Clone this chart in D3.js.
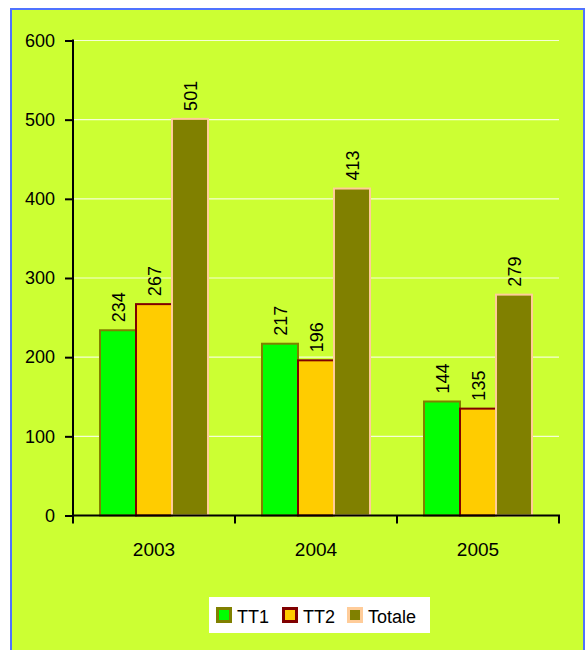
<!DOCTYPE html>
<html>
<head>
<meta charset="utf-8">
<script src="https://cdn.jsdelivr.net/npm/d3@7"></script>
<style>
  body { margin: 0; background: #fff; }
  svg { font-family: "Liberation Sans", Arial, sans-serif; }
</style>
</head>
<body>
<svg id="chart" width="586" height="650"></svg>
<script>
// chart data
const years = ["2003", "2004", "2005"];
const seriesNames = ["TT1", "TT2", "Totale"];
const tt1 = [234, 217, 144];
const tt2 = [267, 196, 135];
const totale = [501, 413, 279];
const yTicks = [0, 100, 200, 300, 400, 500, 600];

const fills = ["#00ff00", "#ffcc00", "#808000"];
const strokes = ["#808000", "#800000", "#ffcc99"];
const fontFam = "Liberation Sans, Arial, sans-serif";

const svg = d3.select("#chart");

// outer frame
svg.append("rect")
    .attr("x", 11).attr("y", 9)
    .attr("width", 573).attr("height", 660)
    .attr("fill", "#ccff33")
    .attr("stroke", "#4f72ff")
    .attr("stroke-width", 2);

const x0 = d3.scaleBand().domain(years).range([73, 559]).paddingInner(0).paddingOuter(0);
const x1 = d3.scaleBand().domain(seriesNames).range([0, x0.bandwidth()]).paddingInner(0).paddingOuter(0.75);
const y = d3.scaleLinear().domain([0, 600]).range([515.5, 40.5]);

// gridlines
svg.append("g")
    .selectAll("line")
    .data(yTicks.filter(d => d > 0))
    .join("line")
    .attr("x1", 73).attr("x2", 559)
    .attr("y1", d => y(d)).attr("y2", d => y(d))
    .attr("stroke", "#ffffff")
    .attr("stroke-opacity", 0.8)
    .attr("stroke-width", 1.2);

const rows = years.map((yr, i) => ({ year: yr, values: [tt1[i], tt2[i], totale[i]] }));

const groups = svg.append("g")
    .selectAll("g")
    .data(rows)
    .join("g")
    .attr("transform", d => `translate(${x0(d.year)},0)`);

groups.selectAll("rect")
    .data(d => d.values.map((v, j) => ({ v, s: seriesNames[j], j })))
    .join("rect")
    .attr("x", d => x1(d.s))
    .attr("width", x1.bandwidth())
    .attr("y", d => y(d.v))
    .attr("height", d => y(0) - y(d.v))
    .attr("fill", d => fills[d.j])
    .attr("stroke", d => strokes[d.j])
    .attr("stroke-width", 2);

groups.selectAll("text")
    .data(d => d.values.map((v, j) => ({ v, s: seriesNames[j] })))
    .join("text")
    .attr("transform", d => `translate(${x1(d.s) + x1.bandwidth() / 2 + 7},${y(d.v) - 8}) rotate(-90)`)
    .attr("font-size", 18)
    .attr("fill", "#000")
    .text(d => d.v);

// y axis
const yAxis = svg.append("g")
    .attr("transform", "translate(73,0)")
    .call(d3.axisLeft(y).tickValues(yTicks).tickSize(8).tickPadding(10));
yAxis.select(".domain").attr("stroke", "#000").attr("stroke-width", 2).attr("d", `M0,${y(600) - 1}V${y(0)}`);
yAxis.selectAll(".tick line").attr("stroke", "#000").attr("stroke-width", 2);
yAxis.selectAll(".tick text").attr("font-size", 18).attr("font-family", fontFam).attr("fill", "#000");

// x axis
const xAxis = svg.append("g")
    .attr("transform", `translate(0,${y(0)})`)
    .call(d3.axisBottom(x0).tickSize(0).tickPadding(27));
xAxis.select(".domain").attr("stroke", "#000").attr("stroke-width", 2).attr("d", "M72,0H560");
xAxis.selectAll(".tick text").attr("font-size", 19).attr("font-family", fontFam).attr("fill", "#000");
svg.append("g")
    .selectAll("line")
    .data(d3.range(years.length + 1))
    .join("line")
    .attr("x1", i => 73 + i * x0.bandwidth())
    .attr("x2", i => 73 + i * x0.bandwidth())
    .attr("y1", y(0)).attr("y2", y(0) + 8)
    .attr("stroke", "#000").attr("stroke-width", 2);

// legend
const legend = svg.append("g").attr("transform", "translate(209,597)");
legend.append("rect").attr("width", 221).attr("height", 36).attr("fill", "#ffffff");
const legendX = [7, 73, 138];
const items = legend.selectAll("g.item")
    .data(seriesNames)
    .join("g")
    .attr("class", "item")
    .attr("transform", (d, i) => `translate(${legendX[i]},10)`);
items.append("rect")
    .attr("x", 1.5).attr("y", 1.5)
    .attr("width", 13).attr("height", 13)
    .attr("fill", (d, i) => fills[i])
    .attr("stroke", (d, i) => strokes[i])
    .attr("stroke-width", 3);
items.append("text")
    .attr("x", 21).attr("y", 15.5)
    .attr("font-size", 18)
    .attr("fill", "#000")
    .text(d => d);
</script>
</body>
</html>
